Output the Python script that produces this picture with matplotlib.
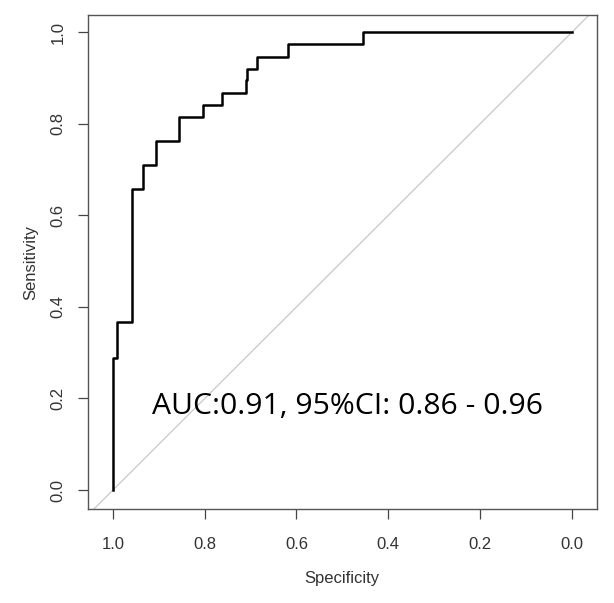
import matplotlib
matplotlib.use("Agg")
import matplotlib.pyplot as plt

# ROC curve corner points (specificity, sensitivity)
specificity = [1.0, 0.992, 0.958, 0.934, 0.907, 0.855, 0.804, 0.762, 0.711, 0.707, 0.686, 0.619, 0.456, 0.0]
sensitivity = [0.0, 0.289, 0.368, 0.658, 0.711, 0.763, 0.816, 0.842, 0.868, 0.895, 0.921, 0.947, 0.974, 1.0]
tick_values = [1.0, 0.8, 0.6, 0.4, 0.2, 0.0]
tick_labels = ["1.0", "0.8", "0.6", "0.4", "0.2", "0.0"]
annotation = "AUC:0.91, 95%CI: 0.86 - 0.96"

fig = plt.figure(figsize=(6.14, 6.03), dpi=100)
ax = fig.add_axes([0.1433, 0.1559, 0.9718 - 0.1433, 0.9751 - 0.1559])

ax.plot([1.2, -0.2], [-0.2, 1.2], color="#c8c8c8", lw=0.9, zorder=1)
ax.plot(specificity, sensitivity, drawstyle="steps-pre", color="black", lw=1.8, zorder=2)

ax.set_xlim(1.0545, -0.0545)
ax.set_ylim(-0.0415, 1.038)

ax.set_xticks(tick_values)
ax.set_xticklabels(tick_labels, fontsize=12, family="Liberation Sans", color="#333333")
ax.set_yticks(tick_values)
ax.set_yticklabels(tick_labels, fontsize=12, family="Liberation Sans", color="#333333",
                   rotation=90, va="center")
ax.tick_params(axis="both", direction="out", length=7, width=0.9, color="#444444", pad=9)
ax.tick_params(axis="x", pad=13)

for s in ax.spines.values():
    s.set_color("#555555")
    s.set_linewidth(1.0)

ax.set_xlabel("Specificity", fontsize=12, family="Liberation Sans", color="#333333", labelpad=14)
ax.set_ylabel("Sensitivity", fontsize=12, family="Liberation Sans", color="#333333", labelpad=9)

ax.text(0.489, 0.183, annotation, fontsize=21.7, family="Open Sans", color="black",
        ha="center", va="center", transform=ax.transData)

fig.savefig("out.png", dpi=100)
